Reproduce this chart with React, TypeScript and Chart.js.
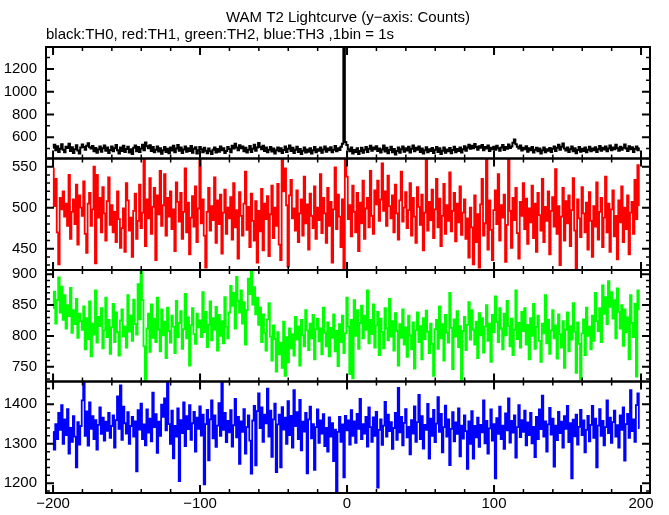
import React, { useEffect, useRef } from 'react';
import { Chart, registerables } from 'chart.js';

Chart.register(...registerables);

const TITLE = 'WAM T2 Lightcurve (y\u2212axis: Counts)';
const SUBTITLE = 'black:TH0, red:TH1, green:TH2, blue:TH3 ,1bin = 1s';
const T_START = -200; // time of first bin (s), 1 bin = 1 s
const X_TICKS = [-200, -100, 0, 100, 200];

// TH0 (black)
const TH0 = [
  508, 533, 485, 521, 471, 498, 539, 491, 467, 517, 505, 543, 479, 512, 462, 495, 530, 483, 458, 509,
  536, 515, 489, 525, 546, 512, 500, 523, 477, 506, 464, 492, 519, 473, 502, 528, 482, 510, 461, 488,
  518, 476, 504, 531, 485, 456, 509, 480, 524, 470, 497, 516, 465, 494, 453, 507, 527, 477, 513, 471,
  500, 534, 486, 554, 521, 504, 530, 480, 513, 467, 491, 518, 474, 503, 455, 486, 515, 470, 498, 459,
  510, 483, 524, 467, 500, 531, 482, 509, 461, 492, 519, 473, 504, 479, 522, 464, 498, 512, 456, 485,
  515, 494, 468, 507, 482, 459, 501, 476, 452, 489, 510, 465, 497, 473, 518, 485, 504, 461, 480, 513,
  497, 468, 524, 500, 542, 510, 486, 530, 503, 519, 477, 507, 465, 491, 522, 471, 498, 533, 482, 509,
  549, 513, 494, 525, 480, 509, 467, 489, 515, 474, 500, 458, 485, 510, 476, 503, 461, 488, 518, 471,
  498, 527, 479, 507, 462, 491, 516, 470, 497, 452, 482, 509, 465, 492, 473, 504, 456, 486, 513, 468,
  495, 482, 509, 464, 492, 518, 473, 501, 485, 512, 467, 491, 522, 477, 504, 488, 516, 542, 1500, 557,
  531, 494, 477, 510, 458, 488, 470, 503, 453, 480, 507, 464, 491, 515, 471, 498, 524, 482, 509, 495,
  521, 479, 501, 465, 492, 528, 474, 507, 459, 488, 516, 468, 497, 449, 479, 510, 464, 495, 518, 473,
  504, 483, 516, 465, 498, 527, 476, 507, 491, 519, 471, 500, 456, 486, 512, 467, 495, 479, 506, 462,
  489, 515, 470, 503, 453, 482, 510, 464, 492, 477, 506, 459, 488, 516, 468, 497, 480, 509, 465, 494,
  521, 482, 509, 534, 498, 525, 504, 540, 515, 491, 521, 507, 531, 485, 513, 500, 527, 479, 507, 494,
  516, 491, 524, 503, 482, 509, 531, 488, 513, 498, 537, 506, 519, 552, 580, 539, 516, 500, 527, 483,
  507, 494, 521, 473, 503, 485, 513, 465, 491, 507, 477, 500, 456, 486, 510, 468, 495, 482, 506, 471,
  498, 519, 480, 507, 533, 491, 516, 545, 501, 483, 510, 470, 494, 518, 476, 503, 459, 488, 515, 473,
  498, 480, 509, 467, 491, 516, 476, 501, 486, 512, 470, 495, 522, 482, 507, 492, 519, 476, 500, 528,
  485, 510, 495, 533, 504, 482, 516, 491, 507, 537, 500, 479, 521, 494, 512, 470, 498, 518, 486, 504,
];

// TH1 (red)
const TH1 = [
  548, 502, 535, 470, 431, 512, 498, 520, 489, 505, 478, 540, 462, 495, 510, 480, 528, 455, 515, 500,
  490, 532, 468, 445, 505, 518, 478, 498, 550, 432, 540, 488, 512, 470, 525, 493, 460, 508, 537, 479,
  503, 470, 495, 458, 520, 486, 451, 475, 499, 446, 530, 509, 472, 488, 440, 496, 517, 462, 484, 528,
  475, 494, 560, 453, 510, 487, 536, 468, 501, 524, 436, 515, 492, 545, 478, 503, 541, 466, 512, 489,
  520, 474, 498, 447, 531, 507, 483, 518, 462, 495, 548, 470, 506, 443, 488, 514, 477, 526, 458, 499,
  560, 481, 510, 466, 427, 495, 524, 472, 502, 485, 537, 457, 509, 480, 516, 444, 494, 522, 468, 500,
  487, 513, 461, 530, 476, 497, 438, 519, 490, 466, 505, 544, 473, 501, 452, 517, 484, 460, 508, 433,
  496, 471, 523, 448, 505, 486, 514, 441, 492, 527, 463, 500, 478, 529, 455, 436, 560, 520, 548, 503,
  428, 515, 534, 487, 499, 472, 521, 458, 493, 510, 466, 538, 481, 504, 449, 517, 490, 475, 526, 462,
  500, 485, 541, 469, 512, 493, 457, 524, 478, 507, 433, 498, 549, 474, 516, 489, 452, 510, 424, 560,
  538, 486, 503, 465, 527, 495, 470, 518, 447, 506, 481, 533, 462, 499, 512, 476, 545, 490, 468, 521,
  504, 533, 484, 510, 554, 496, 520, 478, 539, 502, 487, 515, 470, 528, 493, 461, 509, 544, 483, 500,
  519, 475, 497, 530, 466, 512, 489, 457, 525, 501, 479, 516, 448, 494, 560, 472, 507, 485, 522, 463,
  498, 535, 476, 511, 453, 490, 529, 468, 503, 484, 543, 471, 496, 518, 459, 505, 482, 526, 467, 494,
  510, 462, 487, 439, 500, 476, 431, 515, 458, 492, 427, 504, 535, 466, 481, 560, 449, 509, 473, 436,
  497, 521, 480, 541, 460, 503, 488, 516, 434, 479, 560, 496, 451, 512, 485, 524, 469, 438, 507, 490,
  530, 474, 511, 456, 499, 482, 527, 463, 505, 446, 518, 491, 472, 535, 458, 501, 484, 520, 443, 496,
  513, 477, 547, 468, 502, 430, 489, 524, 460, 508, 481, 515, 453, 497, 536, 472, 426, 510, 487, 464,
  525, 493, 470, 506, 449, 519, 484, 440, 502, 477, 531, 461, 495, 512, 452, 488, 538, 470, 505, 446,
  498, 521, 465, 490, 437, 509, 482, 526, 458, 500, 474, 515, 443, 494, 507, 468, 534, 486, 552, 503,
];

// TH2 (green)
const TH2 = [
  845, 872, 820, 858, 895, 838, 880, 826, 866, 812, 850, 832, 878, 805, 842, 819, 860, 797, 836, 824,
  810, 848, 778, 829, 795, 856, 767, 820, 802, 874, 789, 831, 816, 845, 780, 809, 862, 798, 826, 771,
  814, 852, 790, 838, 806, 768, 825, 843, 799, 815, 781, 866, 807, 833, 792, 859, 819, 802, 884, 827,
  907, 858, 783, 726, 812, 836, 774, 851, 797, 828, 790, 862, 810, 775, 843, 801, 823, 764, 846, 808,
  789, 833, 815, 772, 857, 798, 821, 840, 779, 811, 868, 796, 830, 752, 817, 845, 803, 787, 836, 814,
  825, 798, 871, 806, 839, 782, 818, 856, 793, 829, 810, 847, 776, 834, 800, 824, 788, 863, 815, 796,
  838, 881, 849, 870, 812, 896, 857, 838, 874, 820, 855, 786, 842, 893, 868, 907, 851, 879, 835, 862,
  818, 846, 790, 835, 805, 776, 827, 853, 799, 760, 817, 795, 742, 806, 770, 789, 748, 823, 735, 798,
  757, 812, 780, 803, 768, 831, 794, 815, 752, 826, 801, 783, 842, 809, 777, 820, 796, 834, 762, 811,
  828, 791, 812, 770, 846, 805, 783, 822, 767, 813, 797, 835, 775, 808, 751, 819, 790, 833, 772, 804,
  862, 815, 738, 826, 731, 858, 800, 842, 779, 821, 849, 796, 833, 810, 874, 788, 826, 803, 851, 781,
  817, 839, 769, 828, 806, 780, 845, 812, 793, 860, 799, 824, 776, 837, 808, 752, 819, 797, 843, 786,
  814, 766, 833, 801, 778, 822, 747, 809, 838, 790, 816, 762, 829, 795, 841, 807, 772, 820, 787, 735,
  811, 826, 779, 848, 796, 819, 760, 834, 805, 789, 870, 813, 746, 827, 799, 840, 782, 816, 728, 808,
  831, 777, 818, 855, 794, 842, 810, 786, 823, 764, 837, 801, 829, 773, 815, 850, 792, 820, 758, 834,
  806, 864, 823, 790, 845, 812, 778, 836, 801, 857, 816, 783, 828, 769, 810, 874, 795, 821, 781, 839,
  808, 845, 786, 818, 762, 829, 800, 852, 779, 815, 833, 792, 758, 820, 804, 866, 788, 826, 771, 809,
  842, 796, 817, 763, 835, 803, 781, 824, 748, 810, 838, 775, 816, 794, 853, 807, 740, 822, 787, 730,
  804, 827, 769, 846, 800, 815, 778, 833, 792, 870, 824, 808, 845, 790, 882, 836, 863, 819, 889, 847,
  871, 828, 858, 796, 877, 839, 812, 850, 784, 843, 806, 830, 762, 866, 821, 798, 852, 734, 874, 843,
];

// TH3 (blue)
const TH3 = [
  1330, 1285, 1350, 1312, 1378, 1335, 1398, 1300, 1362, 1322, 1388, 1275, 1340, 1305, 1370, 1318, 1240, 1355, 1298, 1345,
  1410, 1458, 1320, 1382, 1295, 1405, 1338, 1370, 1312, 1360, 1285, 1348, 1392, 1325, 1366, 1308, 1356, 1333, 1378, 1315,
  1345, 1372, 1290, 1360, 1420, 1338, 1448, 1310, 1394, 1352, 1326, 1380, 1300, 1345, 1368, 1318, 1357, 1230, 1385, 1336,
  1402, 1312, 1349, 1296, 1387, 1328, 1364, 1306, 1430, 1342, 1375, 1277, 1356, 1320, 1399, 1368, 1415, 1334, 1458, 1350,
  1300, 1384, 1263, 1345, 1318, 1390, 1205, 1360, 1327, 1405, 1294, 1370, 1337, 1398, 1310, 1352, 1381, 1280, 1366, 1338,
  1395, 1321, 1374, 1197, 1350, 1386, 1258, 1362, 1410, 1314, 1372, 1292, 1346, 1403, 1320, 1458, 1335, 1378, 1304, 1358,
  1329, 1385, 1293, 1347, 1414, 1316, 1368, 1249, 1357, 1330, 1388, 1275, 1342, 1372, 1308, 1224, 1359, 1396, 1245, 1383,
  1428, 1340, 1392, 1305, 1374, 1352, 1440, 1318, 1384, 1267, 1362, 1402, 1228, 1349, 1374, 1240, 1393, 1336, 1366, 1300,
  1408, 1322, 1371, 1290, 1436, 1345, 1380, 1312, 1411, 1283, 1356, 1331, 1378, 1225, 1362, 1394, 1314, 1350, 1234, 1342,
  1387, 1302, 1359, 1326, 1375, 1294, 1340, 1280, 1367, 1318, 1352, 1256, 1336, 1178, 1330, 1368, 1305, 1349, 1215, 1371,
  1334, 1359, 1298, 1385, 1320, 1357, 1302, 1376, 1338, 1414, 1312, 1350, 1326, 1368, 1293, 1392, 1342, 1305, 1367, 1320,
  1381, 1189, 1335, 1362, 1297, 1346, 1406, 1318, 1374, 1332, 1355, 1287, 1340, 1378, 1310, 1442, 1329, 1368, 1296, 1353,
  1388, 1316, 1343, 1273, 1360, 1326, 1395, 1305, 1355, 1424, 1312, 1370, 1288, 1348, 1335, 1401, 1262, 1364, 1320, 1386,
  1304, 1351, 1418, 1330, 1376, 1278, 1342, 1397, 1318, 1362, 1246, 1338, 1380, 1306, 1354, 1325, 1390, 1268, 1346, 1313,
  1372, 1332, 1236, 1357, 1300, 1383, 1262, 1345, 1316, 1366, 1292, 1348, 1329, 1410, 1301, 1358, 1275, 1339, 1387, 1308,
  1350, 1212, 1365, 1325, 1394, 1312, 1346, 1287, 1377, 1334, 1415, 1303, 1358, 1328, 1372, 1265, 1342, 1398, 1317, 1360,
  1330, 1384, 1296, 1354, 1322, 1378, 1301, 1343, 1266, 1368, 1312, 1387, 1337, 1422, 1318, 1357, 1280, 1349, 1391, 1323,
  1364, 1242, 1346, 1309, 1381, 1327, 1356, 1290, 1370, 1338, 1396, 1304, 1352, 1212, 1361, 1319, 1374, 1298, 1343, 1386,
  1322, 1359, 1278, 1335, 1371, 1306, 1348, 1396, 1315, 1364, 1240, 1346, 1388, 1320, 1358, 1296, 1342, 1410, 1327, 1366,
  1302, 1355, 1384, 1318, 1347, 1290, 1372, 1335, 1392, 1257, 1350, 1376, 1315, 1436, 1332, 1362, 1305, 1398, 1428, 1340,
];

// Axis ranges and tick labels of the four panels (top to bottom)
const X_MIN = -204.8;
const X_MAX = 206.1;
const PANEL_MIN = [413, 424, 726, 1175];
const PANEL_MAX = [1393, 560, 907, 1458];
const PANEL_TICKS = [
  [600, 800, 1000, 1200],
  [450, 500, 550],
  [750, 800, 850, 900],
  [1200, 1300, 1400],
];
const PANEL_MINOR = [100, 10, 10, 20];
const PANEL_MAJOR = [200, 50, 50, 100];
const SERIES = [TH0, TH1, TH2, TH3];
const COLORS = ['#000000', '#ff0000', '#00ff00', '#0000ff'];
const WIDTHS = [2, 1.8, 1.8, 1.8];

const FONT_FAMILY = '"Liberation Sans", Arial, Helvetica, sans-serif';

const fmt = (v: number) => (v < 0 ? '\u2212' + Math.abs(v) : String(v));

const framePlugin = {
  id: 'frames',
  afterDraw(chart: any) {
    const ctx = chart.ctx;
    const area = chart.chartArea;
    const xs = chart.scales.x;
    ctx.save();
    ctx.strokeStyle = '#000';
    ctx.fillStyle = '#000';
    // titles
    ctx.font = '15px ' + FONT_FAMILY;
    ctx.textBaseline = 'middle';
    ctx.textAlign = 'center';
    ctx.fillText(TITLE, (area.left + area.right) / 2, 18);
    ctx.textAlign = 'left';
    ctx.fillText(SUBTITLE, area.left, 34.5);

    for (let p = 0; p < 4; p++) {
      const ys = chart.scales['y' + p];
      const top = ys.top;
      const bottom = ys.bottom;
      ctx.lineWidth = 2;
      ctx.strokeRect(area.left, top, area.right - area.left, bottom - top);
      // x ticks on top and bottom edges
      for (let v = -200; v <= 200; v += 20) {
        const px = xs.getPixelForValue(v);
        const major = v % 100 === 0;
        const len = major ? 8 : 4;
        ctx.lineWidth = major ? 2 : 1.5;
        ctx.beginPath();
        ctx.moveTo(px, top);
        ctx.lineTo(px, top + len);
        ctx.moveTo(px, bottom);
        ctx.lineTo(px, bottom - len);
        ctx.stroke();
      }
      // y ticks on left and right edges
      const step = PANEL_MINOR[p];
      const start = Math.ceil(PANEL_MIN[p] / step) * step;
      for (let v = start; v <= PANEL_MAX[p]; v += step) {
        const py = ys.getPixelForValue(v);
        const major = v % PANEL_MAJOR[p] === 0;
        const len = major ? 8 : 4;
        ctx.lineWidth = major ? 2 : 1.5;
        ctx.beginPath();
        ctx.moveTo(area.left, py);
        ctx.lineTo(area.left + len, py);
        ctx.moveTo(area.right, py);
        ctx.lineTo(area.right - len, py);
        ctx.stroke();
      }
    }
    ctx.restore();
  },
};

export default function App() {
  const ref = useRef<HTMLCanvasElement | null>(null);

  useEffect(() => {
    document.body.style.margin = '0';
    document.body.style.overflow = 'hidden';
    const canvas = ref.current;
    if (!canvas) return;

    const datasets = SERIES.map((vals, p) => ({
      label: 'TH' + p,
      data: vals.map((v, i) => ({ x: T_START + i, y: v })),
      borderColor: COLORS[p],
      backgroundColor: COLORS[p],
      borderWidth: WIDTHS[p],
      pointRadius: 0,
      fill: false,
      tension: 0,
      stepped: 'middle',
      xAxisID: 'x',
      yAxisID: 'y' + p,
    }));

    const scales: any = {
      x: {
        type: 'linear',
        position: 'bottom',
        min: X_MIN,
        max: X_MAX,
        grid: { display: false, drawTicks: false },
        border: { display: false },
        afterBuildTicks: (s: any) => {
          s.ticks = X_TICKS.map((v) => ({ value: v }));
        },
        ticks: {
          color: '#000',
          font: { family: FONT_FAMILY, size: 15 },
          padding: 2,
          maxRotation: 0,
          autoSkip: false,
          callback: (v: any) => fmt(Number(v)),
        },
      },
    };
    // left-stacked axes are laid out last-defined on top, so define bottom panel first
    for (let p = 3; p >= 0; p--) {
      scales['y' + p] = {
        type: 'linear',
        position: 'left',
        stack: 'panels',
        stackWeight: 1,
        offset: false,
        min: PANEL_MIN[p],
        max: PANEL_MAX[p],
        grid: { display: false, drawTicks: false },
        border: { display: false },
        afterBuildTicks: (s: any) => {
          s.ticks = PANEL_TICKS[p].map((v) => ({ value: v }));
        },
        afterFit: (s: any) => {
          s.width = 46;
        },
        ticks: {
          color: '#000',
          font: { family: FONT_FAMILY, size: 15 },
          padding: 9,
          autoSkip: false,
          callback: (v: any) => fmt(Number(v)),
        },
      };
    }

    const chart = new Chart(canvas, {
      type: 'line',
      data: { datasets },
      options: {
        responsive: false,
        animation: false,
        devicePixelRatio: 1,
        layout: { padding: { top: 47, right: 19, left: 0, bottom: 0 } },
        plugins: {
          legend: { display: false },
          title: { display: false },
          tooltip: { enabled: false },
        },
        events: [],
        scales,
      },
      plugins: [framePlugin],
    } as any);

    return () => chart.destroy();
  }, []);

  return (
    <div style={{ width: 669, height: 515, background: '#fff' }}>
      <canvas ref={ref} width={669} height={515} style={{ display: 'block' }} />
    </div>
  );
}
